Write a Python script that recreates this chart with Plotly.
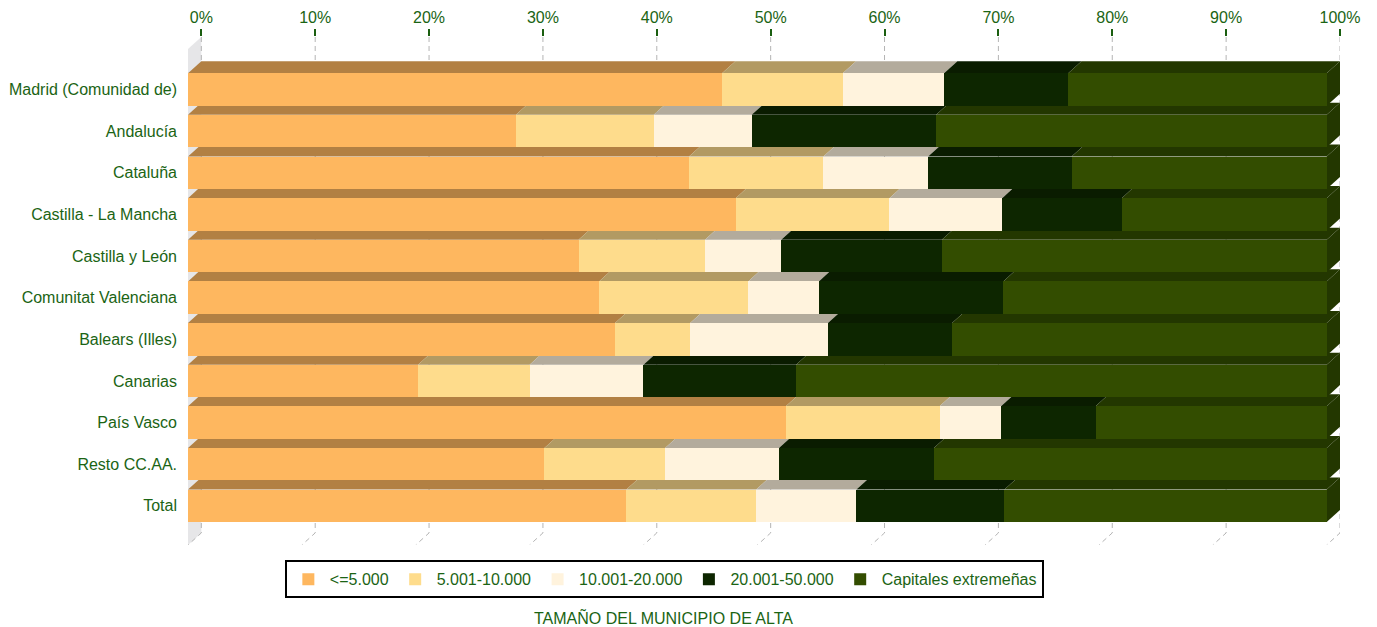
import plotly.graph_objects as go

regions = ["Madrid (Comunidad de)", "Andalucía", "Cataluña", "Castilla - La Mancha",
           "Castilla y León", "Comunitat Valenciana", "Balears (Illes)", "Canarias",
           "País Vasco", "Resto CC.AA.", "Total"]
series_names = ["<=5.000", "5.001-10.000", "10.001-20.000", "20.001-50.000", "Capitales extremeñas"]
s_le5000 = [46.9, 28.8, 44.0, 48.1, 34.3, 36.1, 37.5, 20.2, 52.5, 31.3, 38.5]
s_5_10 = [10.6, 12.1, 11.8, 13.5, 11.1, 13.1, 6.6, 9.8, 13.5, 10.6, 11.4]
s_10_20 = [8.9, 8.6, 9.2, 9.9, 6.7, 6.2, 12.1, 10.0, 5.4, 10.0, 8.8]
s_20_50 = [10.9, 16.2, 12.6, 10.5, 14.1, 16.2, 10.9, 13.4, 8.3, 13.6, 13.0]
s_capitales = [22.7, 34.3, 22.4, 18.0, 33.8, 28.4, 32.9, 46.6, 20.3, 34.5, 28.3]
tick_values = [0, 10, 20, 30, 40, 50, 60, 70, 80, 90, 100]
tick_labels = [f"{t}%" for t in tick_values]

series = [s_le5000, s_5_10, s_10_20, s_20_50, s_capitales]
front_colors = ["#FEB75F", "#FEDC8C", "#FFF3DD", "#0D2600", "#334D00"]
top_colors = ["#B28043", "#B29A63", "#B3AB9C", "#0A1C00", "#233700"]
TXT = "#1B6414"

DX = 1.17     # depth offset in x (percent units)
DY = 0.29     # depth offset in y (row units)
BW = 0.78     # bar thickness
YTOP = -1.26
YBOT = 10.94
ypos = list(range(len(regions)))

fig = go.Figure()
for name, vals, col in zip(series_names, series, front_colors):
    fig.add_trace(go.Bar(
        y=ypos, x=vals, name=name, orientation="h", width=BW,
        marker=dict(color=col, line=dict(width=0)), hoverinfo="skip"))

shapes = []
# side wall
shapes.append(dict(type="path", xref="x", yref="y", layer="below",
                   path=f"M 0,{YBOT} L 0,{YTOP + DY} L {DX},{YTOP} L {DX},{YBOT - DY} Z",
                   fillcolor="#E6E6E8", line=dict(width=0)))
# gridlines
for t in tick_values:
    shapes.append(dict(type="path", xref="x", yref="y", layer="below",
                       path=f"M {t + DX},{YTOP} L {t + DX},{YBOT - DY} L {t},{YBOT}",
                       line=dict(color="#B4B4B4", width=1, dash="5px,4px")))
# top faces and right faces
for i in ypos:
    yT = i - BW / 2
    yB = i + BW / 2
    x0 = 0.0
    for k, vals in enumerate(series):
        x1 = x0 + vals[i]
        shapes.append(dict(type="path", xref="x", yref="y", layer="below",
                           path=f"M {x0},{yT} L {x0 + DX},{yT - DY} L {x1 + DX},{yT - DY} L {x1},{yT} Z",
                           fillcolor=top_colors[k], line=dict(width=0)))
        x0 = x1
    shapes.append(dict(type="path", xref="x", yref="y", layer="below",
                       path=f"M {x0},{yT} L {x0 + DX},{yT - DY} L {x0 + DX},{yB - DY} L {x0},{yB} Z",
                       fillcolor=top_colors[-1], line=dict(width=0)))

fig.update_layout(
    width=1369, height=619, autosize=False,
    barmode="stack", bargap=0,
    paper_bgcolor="white", plot_bgcolor="white",
    margin=dict(l=180, r=37, t=29, b=82, autoexpand=False),
    font=dict(family="Liberation Sans, Arial, sans-serif", size=16, color=TXT),
    shapes=shapes,
    xaxis=dict(side="top", range=[0, 100 + DX], tickvals=[t + DX for t in tick_values],
               ticktext=tick_labels, ticks="outside", ticklen=7, tickwidth=2,
               tickcolor="#1A5E10", showgrid=False, zeroline=False, showline=False,
               tickfont=dict(size=16, color=TXT), fixedrange=True, automargin=False),
    yaxis=dict(range=[YBOT, YTOP], tickvals=ypos, ticktext=regions, showgrid=False,
               zeroline=False, showline=False, ticks="", ticklabelstandoff=10,
               tickfont=dict(size=16, color=TXT), fixedrange=True, automargin=False),
    legend=dict(orientation="h", x=0.4135, xanchor="center", y=-0.03, yanchor="top",
                bordercolor="black", borderwidth=2, font=dict(size=16, color=TXT),
                traceorder="normal", itemwidth=33),
    annotations=[dict(text="TAMAÑO DEL MUNICIPIO DE ALTA", x=0.413, y=-0.142,
                      xref="paper", yref="paper", showarrow=False, yanchor="middle",
                      font=dict(size=16, color=TXT))],
)

fig.write_html("out.html")
